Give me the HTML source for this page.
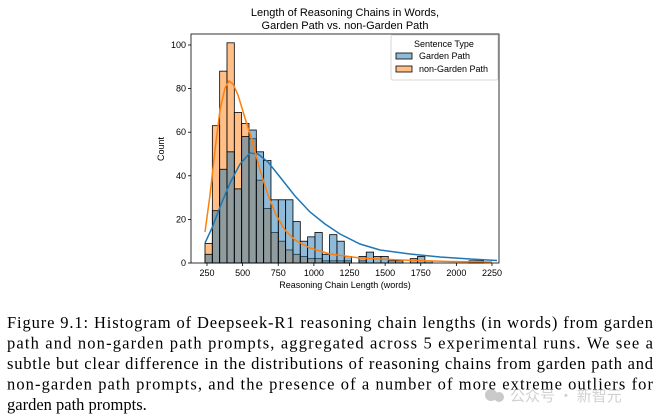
<!DOCTYPE html>
<html><head><meta charset="utf-8"><style>
html,body{margin:0;padding:0;background:#fff;}
svg{display:block;}
.t{font-family:"Liberation Sans",sans-serif;fill:#000;}
.c{font-family:"Liberation Serif",serif;font-size:16.5px;fill:#000;}
</style></head><body>
<svg width="660" height="419" viewBox="0 0 660 419" xmlns="http://www.w3.org/2000/svg">
<rect width="660" height="419" fill="#fff"/>
<text class="t" x="345" y="16" font-size="11" text-anchor="middle">Length of Reasoning Chains in Words,</text>
<text class="t" x="345" y="29" font-size="11" text-anchor="middle">Garden Path vs. non-Garden Path</text>
<g id="bars" stroke="#000" stroke-width="0.8"></g>
<polyline fill="none" stroke="#1f77b4" stroke-width="1.5" points="205,243 212,228 220,207 230,183 240,164 250,153 258,154 268,162 280,177 295,196 310,212 325,224 340,234 360,244 380,250 410,254 440,257 470,259 497,260.5"/>
<polyline fill="none" stroke="#ff7f0e" stroke-width="1.5" points="205,232 210,195 215,150 220,110 225,88 229,81 233,84 238,95 245,118 252,140 260,170 268,195 276,215 285,230 295,240 310,248 330,254 360,258 400,260 450,261.5 492,262"/>
<rect x="191" y="34" width="308" height="229" fill="none" stroke="#000" stroke-width="0.8"/>
<g class="t" font-size="9" text-anchor="end">
<text x="186" y="266">0</text><text x="186" y="222.4">20</text><text x="186" y="178.8">40</text><text x="186" y="135.2">60</text><text x="186" y="91.6">80</text><text x="186" y="48">100</text>
</g>
<g stroke="#000" stroke-width="0.8">
<line x1="188" x2="191" y1="263" y2="263"/><line x1="188" x2="191" y1="219.4" y2="219.4"/><line x1="188" x2="191" y1="175.8" y2="175.8"/><line x1="188" x2="191" y1="132.2" y2="132.2"/><line x1="188" x2="191" y1="88.6" y2="88.6"/><line x1="188" x2="191" y1="45" y2="45"/>
</g>
<g id="xt" class="t" font-size="9" text-anchor="middle"></g>
<text class="t" x="345" y="288" font-size="9" text-anchor="middle">Reasoning Chain Length (words)</text>
<text class="t" x="0" y="0" font-size="9" text-anchor="middle" transform="translate(164,149) rotate(-90)">Count</text>
<rect x="391" y="35" width="107" height="45" fill="#fff" stroke="#ccc" stroke-width="0.8" rx="2"/>
<text class="t" x="444" y="47" font-size="9" text-anchor="middle">Sentence Type</text>
<rect x="396" y="53" width="16" height="6" fill="#1f77b4" fill-opacity="0.5" stroke="#000" stroke-width="0.8"/>
<text class="t" x="419" y="59" font-size="9">Garden Path</text>
<rect x="396" y="66" width="16" height="6" fill="#ff7f0e" fill-opacity="0.5" stroke="#000" stroke-width="0.8"/>
<text class="t" x="419" y="72" font-size="9">non-Garden Path</text>
<text class="c" x="7" y="328" textLength="646" lengthAdjust="spacing">Figure 9.1:  Histogram of Deepseek-R1 reasoning chain lengths (in words) from garden</text>
<text class="c" x="7" y="348.5" textLength="646" lengthAdjust="spacing">path and non-garden path prompts, aggregated across 5 experimental runs.  We see a</text>
<text class="c" x="7" y="369" textLength="646" lengthAdjust="spacing">subtle but clear difference in the distributions of reasoning chains from garden path and</text>
<text class="c" x="7" y="389.5" textLength="646" lengthAdjust="spacing">non-garden path prompts, and the presence of a number of more extreme outliers for</text>
<text class="c" x="7" y="410">garden path prompts.</text>
<g opacity="0.45">
<circle cx="491" cy="395" r="6" fill="#888"/><circle cx="499" cy="397" r="5" fill="#888"/>
<text x="510" y="401" font-size="15" fill="#999" font-family="'Noto Sans CJK SC',sans-serif">公众号 · 新智元</text>
</g>
<script>
var blue=[4,24,43,51,34,58,61,51,47,29,29,29,19,10,12,14,4,13,10,3,0,3,5,3,3,1,1,0,2,3,1,0,0,0,0,0,1,1];
var orange=[9,63,88,101,69,64,57,38,25,14,10,6,4,3,2,2,1,1,1,1,0,1,0,0,0,0,0,0,0,0,0,0,0,0,0,0,0,0];
var g=document.getElementById('bars'),ns='http://www.w3.org/2000/svg',w=7.33;
function add(arr,col){arr.forEach(function(c,i){if(!c)return;var r=document.createElementNS(ns,'rect');r.setAttribute('x',205+w*i);r.setAttribute('width',w);r.setAttribute('y',263-c*2.18);r.setAttribute('height',c*2.18);r.setAttribute('fill',col);r.setAttribute('fill-opacity','0.5');g.appendChild(r);});}
add(orange,'#ff7f0e');add(blue,'#1f77b4');
var xt=document.getElementById('xt');
for(var v=250;v<=2250;v+=250){var x=207+(v-250)*0.1425;var t=document.createElementNS(ns,'text');t.setAttribute('x',x);t.setAttribute('y',276);t.textContent=v;xt.appendChild(t);
var l=document.createElementNS(ns,'line');l.setAttribute('x1',x);l.setAttribute('x2',x);l.setAttribute('y1',263);l.setAttribute('y2',266);l.setAttribute('stroke','#000');l.setAttribute('stroke-width','0.8');xt.parentNode.appendChild(l);}
</script>
</svg>
</body></html>
